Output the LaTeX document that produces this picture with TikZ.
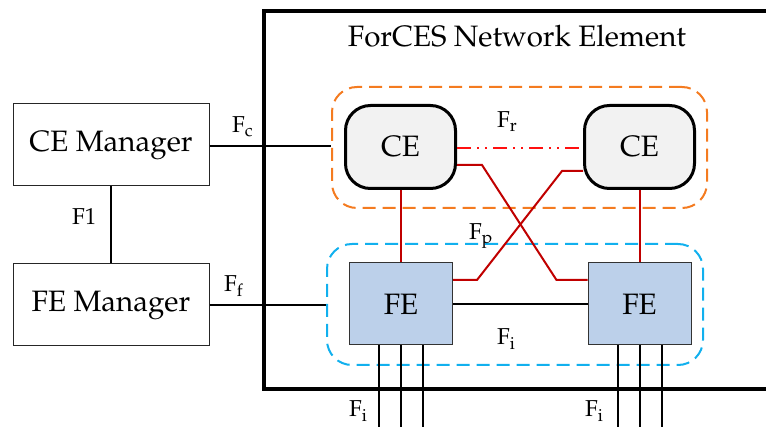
\documentclass[tikz,border=0pt]{standalone}
\usepackage[T1]{fontenc}
\usepackage{mathpazo}
\definecolor{orangeb}{HTML}{F47B20}
\definecolor{blueb}{HTML}{11B0EE}
\definecolor{redl}{HTML}{C00000}
\definecolor{redd}{HTML}{FF1010}
\definecolor{cefill}{HTML}{F2F2F2}
\definecolor{fefill}{HTML}{BCD0EA}
\tikzset{
  mgr/.style={draw=black!85, line width=1pt, minimum width=196pt, minimum height=82pt, inner sep=0pt, font=\fontsize{29.5}{34}\selectfont},
  cebox/.style={draw=black, line width=3pt, fill=cefill, rounded corners=25pt, minimum width=110pt, minimum height=83pt, inner sep=0pt, font=\fontsize{29.5}{34}\selectfont},
  febox/.style={draw=black!80, line width=1pt, fill=fefill, minimum width=103pt, minimum height=82pt, inner sep=0pt, font=\fontsize{29.5}{34}\selectfont},
  grp/.style={dashed, line width=2pt, dash pattern=on 13pt off 7pt, rounded corners=25pt, minimum height=121pt, inner sep=0pt},
  lbl/.style={anchor=base west, inner sep=0pt, font=\fontsize{23}{27}\selectfont},
  redline/.style={draw=redl, line width=2pt},
  blk/.style={draw=black, line width=2pt}
}
\begin{document}
\begin{tikzpicture}[x=1pt,y=-1pt]
\useasboundingbox (0,0) rectangle (766,427);
% network element box
\draw[line width=4pt] (770,11) -- (264,11) -- (264,389) -- (770,389);
\node[anchor=base, inner sep=0pt, font=\fontsize{29.5}{34}\selectfont] (title) at (517,47) {ForCES Network Element};
% groups
\node[grp, draw=orangeb, minimum width=375pt] (ceg) at (519.5,147.5) {};
\node[grp, draw=blueb, minimum width=376pt] (feg) at (515,304.5) {};
% managers
\node[mgr] (cem) at (111,145) {CE Manager};
\node[mgr] (fem) at (111,305) {FE Manager};
% CE and FE
\node[cebox] (ce1) at (400.5,147) {CE};
\node[cebox] (ce2) at (639.5,147) {CE};
\node[febox] (fe1) at (401,304) {FE};
\node[febox] (fe2) at (639.5,304) {FE};
\coordinate (bot) at (0,430);
% connectors
\draw[blk] (cem.south) -- (fem.north);
\draw[blk] ([yshift=-1pt]cem.east) -- ([yshift=-1pt]cem.east -| ceg.west);
\draw[blk] (fem.east) -- (fem.east -| feg.west);
\draw[blk] (fe1.east) -- (fe2.west);
\draw[redline] (ce1.south) -- (ce1.south |- fe1.north);
\draw[redline] (ce2.south) -- (ce2.south |- fe2.north);
\draw[redline] ([yshift=-18pt]ce1.east) -- ++(25,0) -- ([xshift=-31pt,yshift=24pt]fe2.west) -- ([yshift=24pt]fe2.west);
\draw[redline] ([yshift=-24pt]ce2.west) -- ++(-21,0) -- ([xshift=24pt,yshift=24pt]fe1.east) -- ([yshift=24pt]fe1.east);
\draw[draw=redd, line width=2pt, dash pattern=on 14pt off 6pt on 2pt off 6pt on 2pt off 6pt] ([yshift=-1pt]ce1.east) -- ([yshift=-1pt]ce2.west);
\foreach \d in {-22,0,22}{
  \draw[blk] ([xshift=\d pt]fe1.south) -- ([xshift=\d pt]fe1.south |- bot);
  \draw[blk] ([xshift=\d pt]fe2.south) -- ([xshift=\d pt]fe2.south |- bot);
}
% labels
\node[lbl] (lc) at (232,133) {F\textsubscript{c}};
\node[lbl] (lf) at (224,292) {F\textsubscript{f}};
\node[lbl] (l1) at (72,225) {F1};
\node[lbl] (lr) at (497,128) {F\textsubscript{r}};
\node[lbl] (lp) at (469,240) {F\textsubscript{p}};
\node[lbl] (li) at (497,345) {F\textsubscript{i}};
\node[lbl] (li1) at (349,417) {F\textsubscript{i}};
\node[lbl] (li2) at (585,417) {F\textsubscript{i}};
\end{tikzpicture}
\end{document}
